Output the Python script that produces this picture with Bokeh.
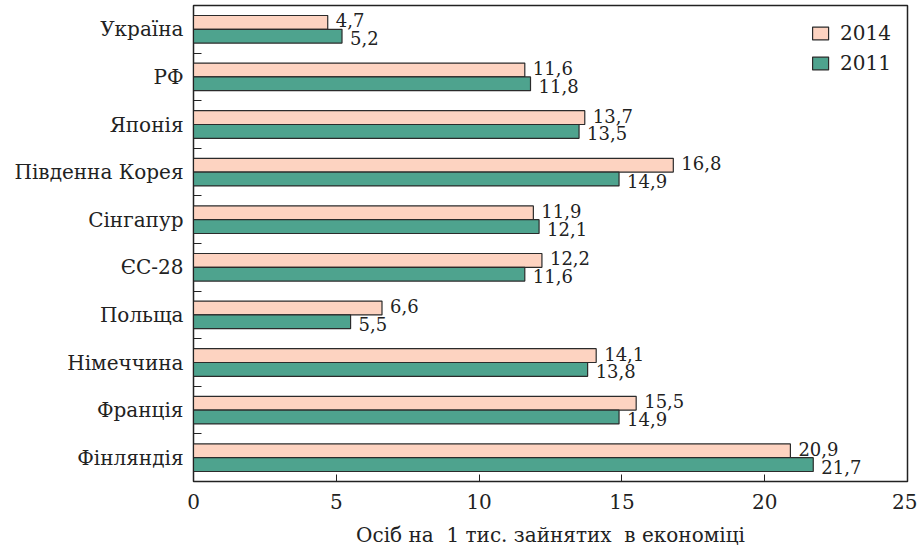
from bokeh.plotting import figure
from bokeh.models import Range1d, FixedTicker, Legend, LegendItem, ColumnDataSource
from bokeh.core.properties import value
from bokeh.embed import file_html
from bokeh.resources import INLINE

countries = ["Україна", "РФ", "Японія", "Південна Корея", "Сінгапур",
             "ЄС-28", "Польща", "Німеччина", "Франція", "Фінляндія"]
values_2014 = [4.7, 11.6, 13.7, 16.8, 11.9, 12.2, 6.6, 14.1, 15.5, 20.9]
values_2011 = [5.2, 11.8, 13.5, 14.9, 12.1, 11.6, 5.5, 13.8, 14.9, 21.7]
x_ticks = [0, 5, 10, 15, 20, 25]
# non-breaking spaces keep the wider gaps in the title
x_title = "Осіб на\u00a0 1 тис. зайнятих\u00a0 в економіці"

FONT = "DejaVu Serif"
C2014 = "#fdd3c1"
C2011 = "#4ea38e"
EDGE = "#2b2b2b"
INK = "#222222"

n = len(countries)
centers = [i + 0.5 for i in range(n)]
bar_h = 0.29

def fmt(v):
    return f"{v:.1f}".replace(".", ",")

src14 = ColumnDataSource(dict(y=[c - bar_h / 2 for c in centers], v=values_2014,
                              lab=[fmt(v) for v in values_2014]))
src11 = ColumnDataSource(dict(y=[c + bar_h / 2 for c in centers], v=values_2011,
                              lab=[fmt(v) for v in values_2011]))

p = figure(width=917, height=550, output_backend="svg", toolbar_location=None,
           x_range=Range1d(0, 25), y_range=Range1d(n, 0),
           min_border_left=193, min_border_right=10, min_border_top=5,
           min_border_bottom=69)

r14 = p.hbar(y="y", left=0, right="v", height=bar_h, source=src14,
             fill_color=C2014, line_color=EDGE, line_width=1.2)
r11 = p.hbar(y="y", left=0, right="v", height=bar_h, source=src11,
             fill_color=C2011, line_color=EDGE, line_width=1.2)

for src, dy in ((src14, -2), (src11, 2)):
    p.text(x="v", y="y", text="lab", source=src, x_offset=8, y_offset=dy,
           text_baseline="middle", text_align="left",
           text_font=value(FONT), text_font_size="18px", text_color=INK)

p.grid.visible = False
p.outline_line_color = INK
p.outline_line_width = 1.5
p.background_fill_color = "white"
p.border_fill_color = "white"

xa = p.xaxis[0]
xa.ticker = FixedTicker(ticks=x_ticks)
xa.major_label_overrides = {t: str(t) for t in x_ticks}
xa.major_tick_in = 7
xa.major_tick_out = 0
xa.minor_tick_line_color = None
xa.axis_line_color = INK
xa.major_tick_line_color = INK
xa.major_label_text_font = FONT
xa.major_label_text_font_size = "20px"
xa.major_label_text_color = INK
xa.major_label_standoff = 12
xa.axis_label = x_title
xa.axis_label_text_font = FONT
xa.axis_label_text_font_size = "20px"
xa.axis_label_text_font_style = "normal"
xa.axis_label_text_color = INK
xa.axis_label_standoff = 11

ya = p.yaxis[0]
ya.ticker = FixedTicker(ticks=centers, minor_ticks=[float(i) for i in range(1, n)])
ya.major_label_overrides = {c: name for c, name in zip(centers, countries)}
ya.major_tick_in = 0
ya.major_tick_out = 0
ya.minor_tick_in = 8
ya.minor_tick_out = 0
ya.minor_tick_line_color = INK
ya.axis_line_color = INK
ya.major_label_text_font = FONT
ya.major_label_text_font_size = "20px"
ya.major_label_text_color = INK
ya.major_label_standoff = 10

legend = Legend(items=[LegendItem(label="2014", renderers=[r14]),
                       LegendItem(label="2011", renderers=[r11])],
                location="top_right", orientation="vertical",
                border_line_color=None, background_fill_alpha=0,
                label_text_font=FONT, label_text_font_size="20px",
                label_text_color=INK,
                glyph_width=20, glyph_height=16, spacing=6,
                label_standoff=10, margin=16, padding=6)
p.add_layout(legend)

open("out.html", "w").write(file_html(p, INLINE))
